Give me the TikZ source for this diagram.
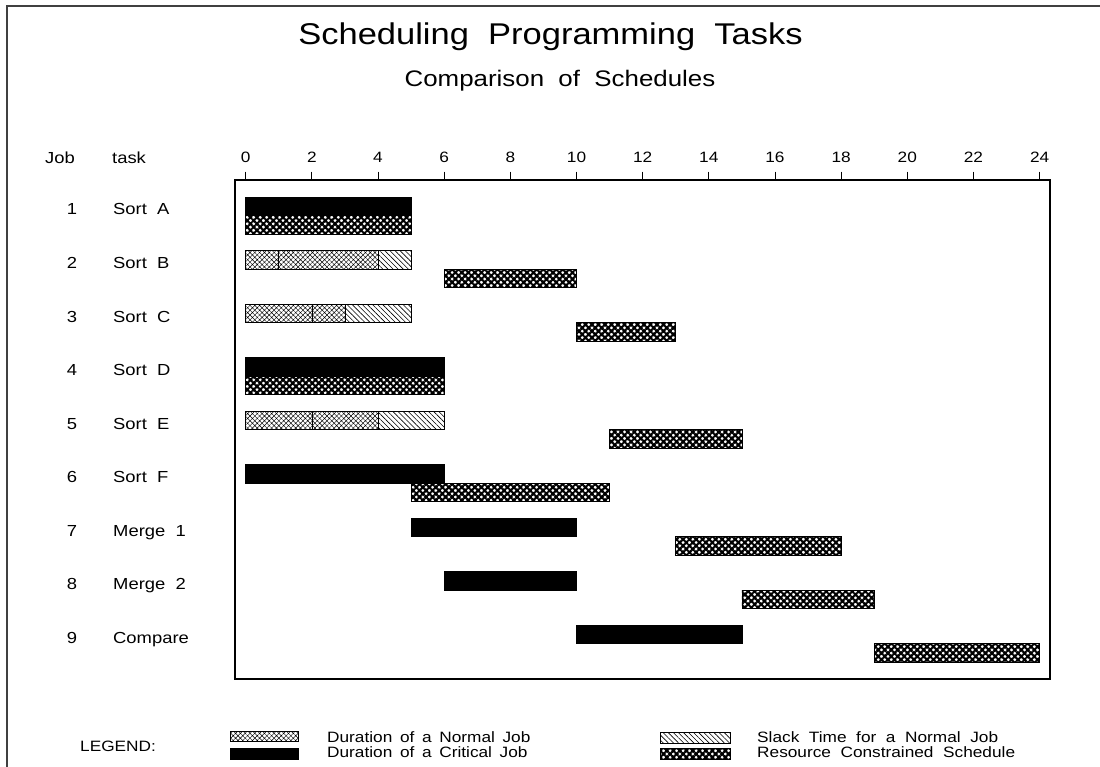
\documentclass[tikz,border=0pt]{standalone}
\usepackage{fontspec}
\setmainfont{Liberation Sans}[FakeStretch=1.15,WordSpace=2]
\newfontfamily\lgdfont{Liberation Sans}[FakeStretch=1.15,WordSpace=1.6]
\usepackage{tikz}
\usetikzlibrary{patterns.meta}

\tikzset{
  normaljob/.style={draw=black,line width=0.6pt,pattern={Hatch[angle=45,distance=3.4pt,line width=0.45pt]}},
  slackjob/.style={draw=black,line width=0.6pt,pattern={Lines[angle=-45,distance=3.6pt,line width=0.6pt]}},
  criticaljob/.style={draw=black,line width=0.6pt,fill=black},
  resourcejob/.style={draw=black,line width=0.8pt,pattern={Hatch[angle=45,distance=4.6pt,line width=2.1pt]}},
  lbl/.style={inner sep=0pt,anchor=base,font=\fontsize{16}{19}\selectfont},
  lgd/.style={inner sep=0pt,anchor=base west,font=\fontsize{15}{18}\selectfont}
}

\begin{document}
\begin{tikzpicture}[x=1pt,y=-1pt]
\useasboundingbox (0,0) rectangle (1100,767);
\draw[line width=1.5pt,black!75](7,6)rectangle(1120,790);
% titles
\node[inner sep=0pt,anchor=base,font=\fontsize{30}{36}\selectfont] (title) at (550.5,45) {Scheduling Programming Tasks};
\node[inner sep=0pt,anchor=base,font=\fontsize{22.5}{27}\selectfont] (subtitle) at (560,87) {Comparison of Schedules};
% headings
\node[lbl] (jobhead) at (60,164) {Job};
\node[lbl,anchor=base west] (taskhead) at (112,164) {task};
\draw[line width=1.2pt](235,180)rectangle(1050,679);
% time axis and bars
\begin{scope}[x=33.08pt,shift={(245.7pt,0pt)}]
\foreach \t in {0,2,...,24}{
  \draw[line width=0.8pt](\t,171.7)--(\t,180);
  \node[lbl,font=\fontsize{15}{18}\selectfont] (tick\t) at (\t,163) {\t};
}
\foreach \r/\a/\b in {1/0/5,4/0/6,6/0/6,7/5/10,8/6/10,9/10/15}{
  \pgfmathsetmacro\yt{197+(\r-1)*53.5}
  \path[criticaljob](\a,\yt)rectangle(\b,\yt+18.6);
}
\foreach \r/\a/\b in {2/0/1,2/1/4,3/0/2,3/2/3,5/0/2,5/2/4}{
  \pgfmathsetmacro\yt{197+(\r-1)*53.5}
  \path[normaljob](\a,\yt)rectangle(\b,\yt+18.6);
}
\foreach \r/\a/\b in {2/4/5,3/3/5,5/4/6}{
  \pgfmathsetmacro\yt{197+(\r-1)*53.5}
  \path[slackjob](\a,\yt)rectangle(\b,\yt+18.6);
}
\foreach \r/\a/\b in {1/0/5,2/6/10,3/10/13,4/0/6,5/11/15,6/5/11,7/13/18,8/15/19,9/19/24}{
  \pgfmathsetmacro\yt{197+(\r-1)*53.5+18.6}
  \path[resourcejob](\a,\yt)rectangle(\b,\yt+18.6);
}
\end{scope}
% job rows
\foreach \r/\t in {1/Sort A,2/Sort B,3/Sort C,4/Sort D,5/Sort E,6/Sort F,7/Merge 1,8/Merge 2,9/Compare}{
  \node[lbl] (job\r) at (72,{197+(\r-1)*53.5+18}) {\r};
  \node[lbl,anchor=base west] (task\r) at (113,{197+(\r-1)*53.5+18}) {\t};
}
% legend
\node[lgd] (legend) at (80,751) {LEGEND:};
\path[normaljob](230,731)rectangle(298,741);
\path[criticaljob](230,748)rectangle(298,759);
\path[slackjob](660,732)rectangle(730,743);
\path[resourcejob](660,748)rectangle(730,759);
\node[lgd,font=\lgdfont\fontsize{15}{18}\selectfont] (lnormal) at (327,742) {Duration of a Normal Job};
\node[lgd,font=\lgdfont\fontsize{15}{18}\selectfont] (lcritical) at (327,757) {Duration of a Critical Job};
\node[lgd] (lslack) at (757,742) {Slack Time for a Normal Job};
\node[lgd] (lresource) at (757,757) {Resource Constrained Schedule};
\end{tikzpicture}
\end{document}
